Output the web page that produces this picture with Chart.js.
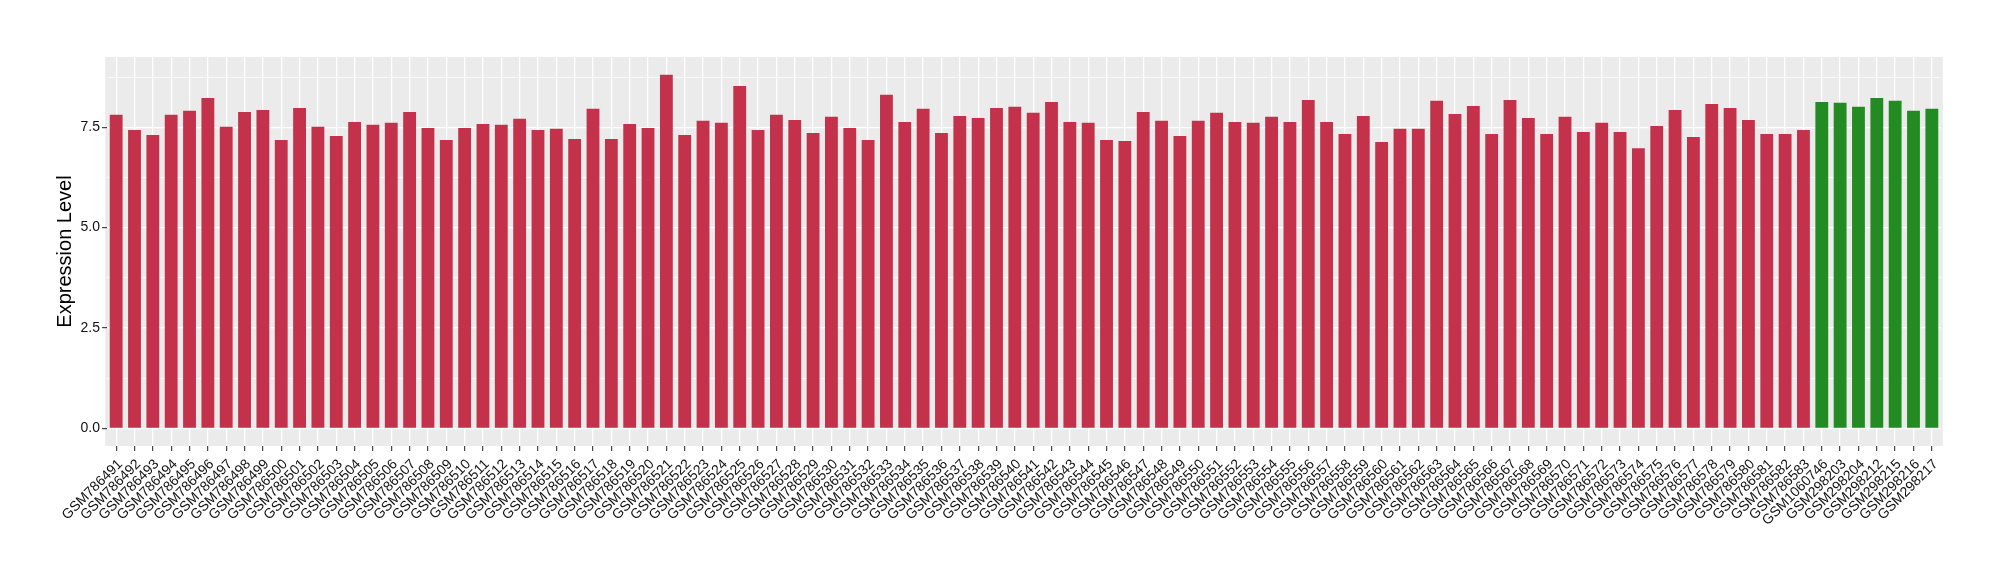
<!DOCTYPE html>
<html>
<head>
<meta charset="utf-8">
<script src="https://cdn.jsdelivr.net/npm/chart.js@4.4.1/dist/chart.umd.min.js"></script>
<style>
  html, body { margin: 0; padding: 0; background: #ffffff; }
  #wrap { width: 2000px; height: 580px; }
</style>
</head>
<body>
<div id="wrap"><canvas id="expressionChart" width="2000" height="580"></canvas></div>
<script>
// Amostras do primeiro grupo (vermelho)
const groupA = [];
for (let n = 786491; n <= 786583; n++) groupA.push('GSM' + n);

// Amostras do segundo grupo (verde)
const groupB = ['GSM1060746', 'GSM298203', 'GSM298204', 'GSM298212', 'GSM298215', 'GSM298216', 'GSM298217'];

const sampleIds = groupA.concat(groupB);

// Níveis de expressão
const expressionA = [
    7.81, 7.43, 7.31, 7.81, 7.91, 8.23, 7.51, 7.88, 7.93, 7.18,
    7.98, 7.51, 7.28, 7.63, 7.56, 7.61, 7.88, 7.48, 7.18, 7.48,
    7.58, 7.56, 7.71, 7.43, 7.46, 7.21, 7.96, 7.21, 7.58, 7.48,
    8.81, 7.31, 7.66, 7.61, 8.53, 7.43, 7.81, 7.68, 7.36, 7.76,
    7.48, 7.18, 8.31, 7.63, 7.96, 7.36, 7.78, 7.73, 7.98, 8.01,
    7.86, 8.13, 7.63, 7.61, 7.18, 7.16, 7.88, 7.66, 7.28, 7.66,
    7.86, 7.63, 7.61, 7.76, 7.63, 8.18, 7.63, 7.33, 7.78, 7.13,
    7.46, 7.46, 8.16, 7.83, 8.03, 7.33, 8.18, 7.73, 7.33, 7.76,
    7.38, 7.61, 7.38, 6.98, 7.53, 7.93, 7.26, 8.08, 7.98, 7.68,
    7.33, 7.33, 7.43
];
const expressionB = [8.13, 8.11, 8.01, 8.23, 8.16, 7.91, 7.96];

const expression = expressionA.concat(expressionB);

// Ticks do eixo Y (principais com rótulo, secundários só com linha)
const yMajorTicks = [0, 2.5, 5, 7.5];
const yMinorTicks = [1.25, 3.75, 6.25, 8.75];

const colorA = '#C3314A';
const colorB = '#228B22';
const panelColor = '#EBEBEB';

const yTop = Math.max(...expression);
const yMin = -yTop * 0.05;
const yMax = yTop * 1.05;

// Fundo cinza do painel (estilo ggplot), um pouco além das barras
const panelBackground = {
    id: 'panelBackground',
    beforeDraw(chart) {
        const { ctx, chartArea } = chart;
        const band = chartArea.width / sampleIds.length;
        const extra = band * 0.1;
        ctx.save();
        ctx.fillStyle = panelColor;
        ctx.fillRect(chartArea.left - extra, chartArea.top,
            chartArea.width + extra * 2, chartArea.bottom - chartArea.top);
        ctx.restore();
    }
};

const FONT = "'Liberation Sans', Arial, Helvetica, sans-serif";

new Chart(document.getElementById('expressionChart'), {
    type: 'bar',
    data: {
        labels: sampleIds,
        datasets: [{
            label: 'Expression Level',
            data: expression,
            backgroundColor: sampleIds.map(id => groupB.includes(id) ? colorB : colorA),
            borderWidth: 0,
            barPercentage: 0.7,
            categoryPercentage: 1.0
        }]
    },
    options: {
        responsive: false,
        animation: false,
        devicePixelRatio: 1,
        layout: {
            padding: { top: 57, right: 59, left: 0, bottom: 0 }
        },
        plugins: {
            legend: { display: false },
            tooltip: { enabled: false }
        },
        scales: {
            x: {
                offset: true,
                border: { display: false },
                grid: {
                    offset: false,
                    color: '#ffffff',
                    lineWidth: 1.3,
                    tickColor: '#333333',
                    tickLength: 5,
                    tickWidth: 1.1
                },
                ticks: {
                    autoSkip: false,
                    maxRotation: 45,
                    minRotation: 45,
                    padding: 5,
                    labelOffset: 4,
                    color: '#111111',
                    font: { family: FONT, size: 14 }
                },
                afterFit(scale) { scale.height = 134; }
            },
            y: {
                min: yMin,
                max: yMax,
                border: { display: false },
                afterBuildTicks(scale) {
                    scale.ticks = yMajorTicks.concat(yMinorTicks)
                        .sort((a, b) => a - b)
                        .map(v => ({ value: v }));
                },
                grid: {
                    color: '#ffffff',
                    lineWidth: ctx => yMajorTicks.includes(ctx.tick.value) ? 1.3 : 0.7,
                    tickColor: ctx => yMajorTicks.includes(ctx.tick.value) ? '#333333' : 'rgba(0,0,0,0)',
                    tickLength: 5,
                    tickWidth: 1.1
                },
                ticks: {
                    padding: 2,
                    color: '#111111',
                    font: { family: FONT, size: 14 },
                    callback: function (value) {
                        return yMajorTicks.includes(value) ? value.toFixed(1) : '';
                    }
                },
                title: {
                    display: true,
                    text: 'Expression Level',
                    color: '#000000',
                    font: { family: FONT, size: 20 },
                    padding: { top: 53, bottom: 0 }
                },
                afterFit(scale) { scale.width = 107; }
            }
        }
    },
    plugins: [panelBackground]
});
</script>
</body>
</html>
